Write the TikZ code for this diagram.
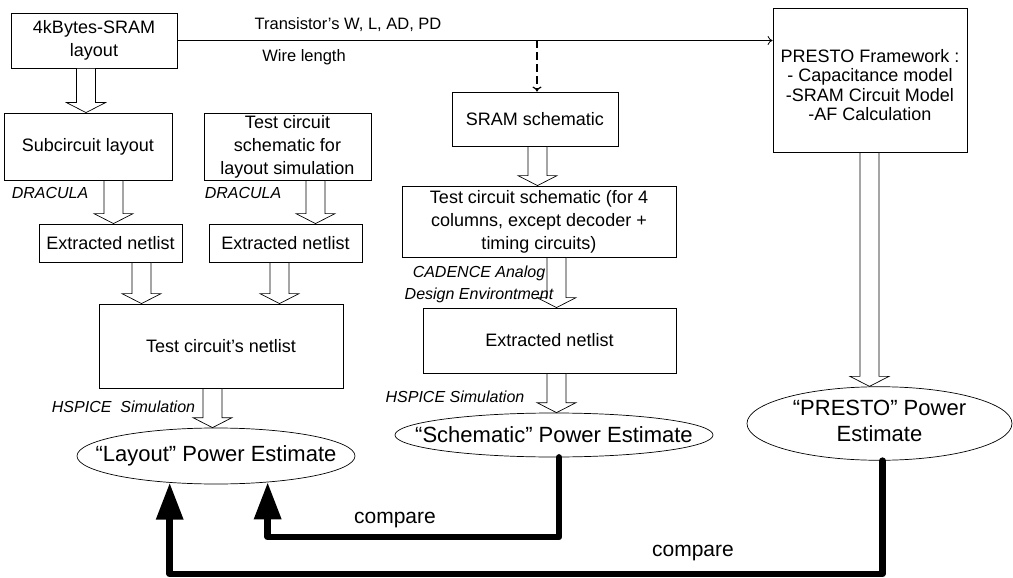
\documentclass[tikz,border=0pt]{standalone}
\usepackage{fontspec}
\setmainfont{Liberation Sans}
\usetikzlibrary{arrows.meta,shapes.geometric,calc}

\begin{document}
\begin{tikzpicture}[x=1pt,y=-1pt,
  box/.style={draw, line width=0.8pt, align=center, inner sep=0pt,
    font=\fontsize{18}{23}\selectfont},
  ell/.style={draw, ellipse, line width=0.7pt, inner sep=0pt,
    font=\fontsize{22}{26}\selectfont},
  tool/.style={font=\fontsize{16}{22}\selectfont\itshape, align=center, inner sep=0pt},
  datalbl/.style={font=\fontsize{16.5}{18}\selectfont, inner sep=0pt},
  cmplbl/.style={font=\fontsize{21}{24}\selectfont, inner sep=0pt},
  thin/.style={line width=0.8pt, -{To[length=5pt,width=9pt]}},
  cmp/.style={line width=6.5pt, line join=round, line cap=round,
    -{Triangle[length=37pt,width=26pt]}},
  hollow/.style={draw, fill=white, line width=0.7pt,
    to path={let \p1=(\tikztostart), \p2=(\tikztotarget) in
      (\x1-9.5pt,\y1) -- (\x1-9.5pt,\y2+10pt) -- (\x1-19.5pt,\y2+10pt)
      -- (\x1,\y2) -- (\x1+19.5pt,\y2+10pt) -- (\x1+9.5pt,\y2+10pt)
      -- (\x1+9.5pt,\y1) -- cycle}}
]
\useasboundingbox[fill=white] (0,0) rectangle (1013,578);

% layout branch
\node[box, minimum width=166pt, minimum height=55pt] (sramlay) at (94,40.5) {4kBytes-SRAM\\layout};
\node[box, minimum width=168pt, minimum height=67pt] (sub) at (88,146.5) {Subcircuit layout};
\node[box, minimum width=167pt, minimum height=67pt] (tlay) at (287.5,146.5) {Test circuit\\schematic for\\layout simulation};
\node[box, minimum width=143pt, minimum height=38pt] (ext1) at (110.5,243) {Extracted netlist};
\node[box, minimum width=153pt, minimum height=38pt] (ext2) at (285.5,243) {Extracted netlist};
\node[box, minimum width=244pt, minimum height=84pt] (tcn) at (221,346) {Test circuit’s netlist};
\node[ell, minimum width=278pt, minimum height=56pt] (layout) at (216,456) {\makebox[0pt]{“Layout” Power Estimate}};

% schematic branch
\node[box, minimum width=166pt, minimum height=54pt] (sch) at (535,119) {SRAM schematic};
\node[box, minimum width=274pt, minimum height=71pt] (tcs) at (539,221.5) {Test circuit schematic (for 4\\columns, except decoder +\\timing circuits)};
\node[box, minimum width=253pt, minimum height=65pt] (ext3) at (549.5,340.5) {Extracted netlist};
\node[ell, minimum width=318pt, minimum height=44pt] (schem) at (554,435) {\makebox[0pt]{“Schematic” Power Estimate}};

% model branch
\node[box, minimum width=194pt, minimum height=144pt, font=\fontsize{18}{19.5}\selectfont] (presto) at (870,80) {\rule{0pt}{23pt}PRESTO Framework :\\- Capacitance model\\-SRAM Circuit Model\\-AF Calculation};
\node[ell, minimum width=265pt, minimum height=65pt] (pres) at (879.5,423.5) {\makebox[0pt]{\begin{tabular}{@{}c@{}}“PRESTO” Power\\Estimate\end{tabular}}};

% extracted data going to the model and the schematic
\coordinate (tap) at (537,40.5);
\draw[thin] (sramlay.east) -- (sramlay.east -| presto.west);
\draw[thin, line width=1.2pt, dash pattern=on 8pt off 4pt] (tap) -- (tap |- sch.north);
\node[datalbl] (wlad) at (348,25) {Transistor’s W, L, AD, PD};
\node[datalbl] (wire) at (304,57) {Wire length};

% flow arrows
\draw[hollow] ([xshift=-8pt]sramlay.south) to (sub.north);
\draw[hollow] ([xshift=25.5pt]sub.south) to (ext1.north);
\draw[hollow] ([xshift=28pt]tlay.south) to (ext2.north);
\draw[hollow] ([xshift=31pt]ext1.south) to (tcn.north);
\draw[hollow] ([xshift=-6pt]ext2.south) to (tcn.north);
\draw[hollow] ([xshift=-8.5pt]tcn.south) to (layout.north);
\draw[hollow] ([xshift=2.5pt]sch.south) to (tcs.north);
\draw[hollow] ([xshift=17.5pt]tcs.south) to (ext3.north);
\draw[hollow] ([xshift=7pt]ext3.south) to (schem.north);
\draw[hollow] ([xshift=-0.5pt]presto.south) to (pres.north);

% tool labels
\node[tool] (drac1) at (50,193) {DRACULA};
\node[tool] (drac2) at (243,193) {DRACULA};
\node[tool] (cad) at (479,284) {CADENCE Analog\\Design Environtment};
\node[tool] (hsp1) at (123.5,407) {HSPICE\ \ Simulation};
\node[tool] (hsp2) at (455,397) {HSPICE Simulation};

% comparisons
\coordinate (low1) at (0,537);
\coordinate (low2) at (0,574);
\draw[cmp] ([xshift=5pt]schem.south) -- ([xshift=5pt]schem.south |- low1) -| (layout.-27.6);
\draw[cmp] ([xshift=3pt]pres.south) -- ([xshift=3pt]pres.south |- low2) -| (layout.-150.2);
\node[cmplbl] (cmp1) at (395,520) {compare};
\node[cmplbl] (cmp2) at (693,553) {compare};
\end{tikzpicture}
\end{document}
